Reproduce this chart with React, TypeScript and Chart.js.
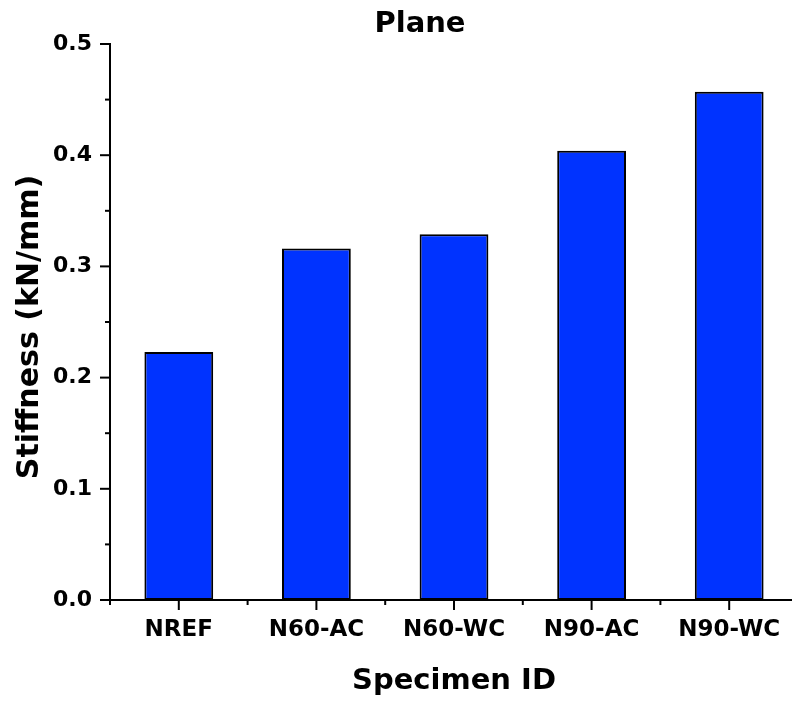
import React, { useEffect, useRef } from 'react';
import { Chart, registerables } from 'chart.js';

Chart.register(...registerables);

const categories = ['NREF', 'N60-AC', 'N60-WC', 'N90-AC', 'N90-WC'];
const stiffness = [0.223, 0.316, 0.329, 0.404, 0.457];
const yTicks = [0, 0.1, 0.2, 0.3, 0.4, 0.5];
const chartTitle = 'Plane';
const xTitle = 'Specimen ID';
const yTitle = 'Stiffness (kN/mm)';

const FONT = '"DejaVu Sans", "Liberation Sans", Arial, sans-serif';

const tickPlugin = {
  id: 'customTicks',
  afterDraw(chart: any) {
    const ctx = chart.ctx;
    const xs = chart.scales.x;
    const ys = chart.scales.y;
    const ca = chart.chartArea;
    const line = (x1: number, y1: number, x2: number, y2: number) => {
      ctx.beginPath();
      ctx.moveTo(x1, y1);
      ctx.lineTo(x2, y2);
      ctx.stroke();
    };
    ctx.save();
    ctx.strokeStyle = '#000';
    ctx.lineWidth = 2;
    for (let i = 0; i < yTicks.length; i++) {
      const py = ys.getPixelForValue(yTicks[i]);
      line(ca.left - 10, py, ca.left, py);
      if (i < yTicks.length - 1) {
        const pm = ys.getPixelForValue((yTicks[i] + yTicks[i + 1]) / 2);
        line(ca.left - 5, pm, ca.left, pm);
      }
    }
    const p0 = xs.getPixelForValue(0);
    const step = xs.getPixelForValue(1) - p0;
    for (let i = 0; i < categories.length; i++) {
      const px = xs.getPixelForValue(i);
      line(px, ca.bottom, px, ca.bottom + 10);
    }
    for (let i = 0; i <= categories.length; i++) {
      const pb = p0 + (i - 0.5) * step;
      line(pb, ca.bottom, pb, ca.bottom + 5);
    }
    ctx.fillStyle = '#000';
    ctx.textAlign = 'center';
    ctx.textBaseline = 'middle';
    ctx.font = `bold 29px ${FONT}`;
    ctx.fillText(chartTitle, 420, 24);
    ctx.save();
    ctx.translate(30, 327);
    ctx.rotate(-Math.PI / 2);
    ctx.font = `bold 30px ${FONT}`;
    ctx.fillText(yTitle, 0, 0);
    ctx.restore();
    ctx.restore();
  },
};

export default function App() {
  const ref = useRef<HTMLCanvasElement | null>(null);
  useEffect(() => {
    if (!ref.current) return;
    const chart = new Chart(ref.current, {
      type: 'bar',
      data: {
        labels: categories,
        datasets: [
          {
            data: stiffness,
            backgroundColor: '#0033ff',
            borderColor: '#000000',
            borderWidth: 2,
            borderSkipped: false,
            categoryPercentage: 1,
            barPercentage: 0.5,
          },
        ],
      },
      options: {
        responsive: false,
        animation: false,
        layout: { padding: { top: 44, left: 0, right: 0, bottom: 0 } },
        plugins: {
          legend: { display: false },
          tooltip: { enabled: false },
          title: { display: false },
        },
        scales: {
          x: {
            afterFit: (s: any) => {
              s.height = 102;
            },
            grid: { display: false, drawTicks: false },
            border: { display: true, color: '#000', width: 2 },
            ticks: {
              color: '#000',
              padding: 16,
              maxRotation: 0,
              autoSkip: false,
              font: { family: FONT, size: 23, weight: 'bold' },
            },
            title: {
              display: true,
              text: xTitle,
              color: '#000',
              font: { family: FONT, size: 29, weight: 'bold' },
              padding: { top: 0, bottom: 3 },
            },
          },
          y: {
            min: 0,
            max: 0.5,
            afterFit: (s: any) => {
              s.width = 110;
            },
            grid: { display: false, drawTicks: false },
            border: { display: true, color: '#000', width: 2 },
            ticks: {
              stepSize: 0.1,
              color: '#000',
              padding: 18,
              font: { family: FONT, size: 22, weight: 'bold' },
              callback: (v: any) => Number(v).toFixed(1),
            },
            title: { display: false },
          },
        },
      },
      plugins: [tickPlugin],
    } as any);
    return () => chart.destroy();
  }, []);
  return (
    <div
      style={{
        position: 'fixed',
        left: 0,
        top: 0,
        width: 792,
        height: 702,
        overflow: 'hidden',
        background: '#fff',
      }}
    >
      <canvas ref={ref} width={798} height={702} style={{ width: 798, height: 702, display: 'block' }} />
    </div>
  );
}
